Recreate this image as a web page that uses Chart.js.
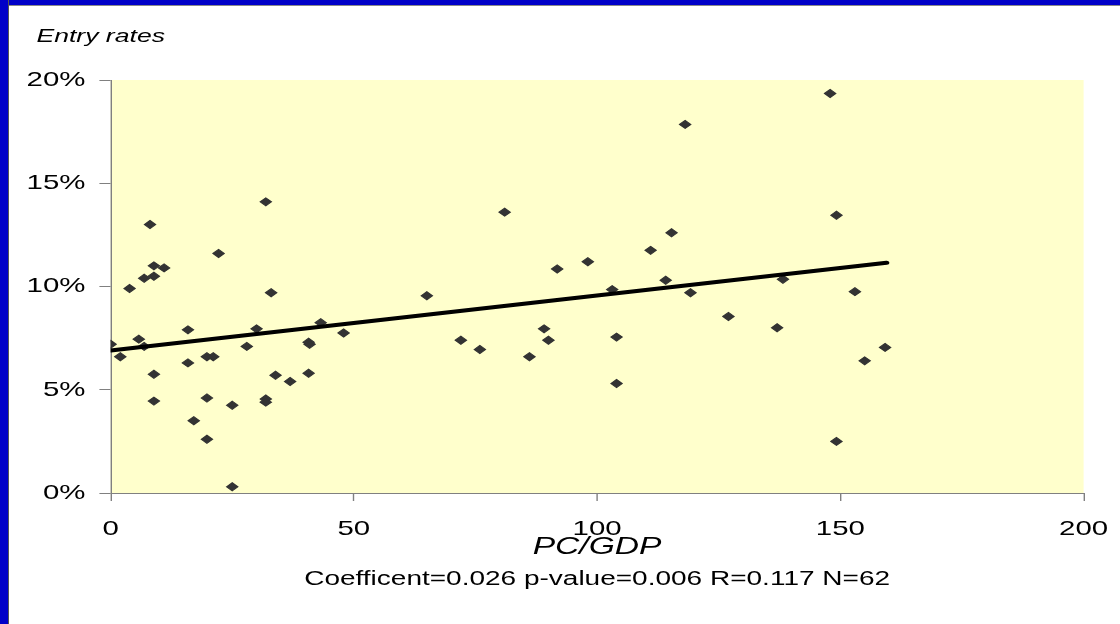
<!DOCTYPE html>
<html>
<head>
<meta charset="utf-8">
<script src="https://cdn.jsdelivr.net/npm/chart.js@4.4.1/dist/chart.umd.min.js"></script>
<style>
  html, body { margin: 0; padding: 0; background: #ffffff; overflow: hidden; }
  #wrap { position: relative; width: 1120px; height: 624px; }
  #myChart { position: absolute; left: 0; top: 0; width: 1120px; height: 624px; }
  #frameTop { position: absolute; left: 0; top: 0; width: 1120px; height: 5px; background: #0000c8; border-bottom: 1px solid #8a8a8a; }
  #frameLeft { position: absolute; left: 0; top: 0; width: 8px; height: 624px; background: #0000c8; border-right: 1px solid #555; }
</style>
</head>
<body>
<div id="wrap">
  <canvas id="myChart" width="800" height="624" style="width:1120px;height:624px"></canvas>
  <div id="frameTop"></div>
  <div id="frameLeft"></div>
</div>
<script>
// PC/GDP (x) against entry rate in % (y)
const pcGdp = [0, 2.0, 3.9, 8.1, 8.9, 11.0, 6.9, 8.9, 5.8, 6.9,
  8.9, 8.9, 15.9, 15.9, 17.1, 19.8, 21.1, 19.8, 19.8, 22.2,
  25.0, 25.0, 28.0, 30.0, 31.9, 31.9, 31.9, 33.0, 33.9, 36.9,
  40.7, 40.7, 40.9, 43.2, 47.9, 65.0, 72.0, 75.9, 81.0, 86.1,
  89.1, 90.0, 91.8, 98.1, 103.1, 104.0, 104.0, 111.0, 115.3, 114.1,
  119.2, 127.0, 147.9, 149.2, 138.2, 137.0, 153.0, 159.2, 155.0, 149.2,
  118.1];
const entryRates = [7.2, 6.6, 9.9, 13.0, 11.0, 10.9, 10.4, 10.5, 7.45, 7.1,
  5.75, 4.45, 7.9, 6.3, 3.5, 6.6, 6.6, 4.6, 2.6, 11.6,
  4.25, 0.3, 7.1, 7.95, 14.1, 4.55, 4.4, 9.7, 5.7, 5.4,
  7.3, 5.8, 7.2, 8.25, 7.75, 9.55, 7.4, 6.95, 13.6, 6.6,
  7.95, 7.4, 10.85, 11.2, 9.85, 7.55, 5.3, 11.75, 12.6, 10.3,
  9.7, 8.55, 19.35, 13.45, 10.35, 8.0, 9.75, 7.05, 6.4, 2.5,
  17.85];

// fitted line ends
const trendX = [0, 159.5];
const trendY = [6.9, 11.15];

const xTicks = [0, 50, 100, 150, 200];
const yTicks = [0, 5, 10, 15, 20];

const titleText = 'Entry rates';
const xTitle = 'PC/GDP';
const statsText = 'Coefficent=0.026 p-value=0.006 R=0.117 N=62';

// the picture is stretched sideways, so the chart is drawn at 800px and widened
const STRETCH = 1.4;

const stretchPlugin = {
  id: 'stretch',
  beforeDraw(chart) {
    const c = chart.canvas;
    if (c.width !== 1120) {
      c.width = 1120;
      c.height = 624;
    }
    const ctx = chart.ctx;
    ctx.save();
    ctx.setTransform(STRETCH, 0, 0, 1, 0, 0);
    // plot background
    const a = chart.chartArea;
    ctx.fillStyle = '#ffffcc';
    ctx.fillRect(a.left, a.top, a.right - a.left, a.bottom - a.top);
  },
  afterDraw(chart) {
    const ctx = chart.ctx;
    const a = chart.chartArea;
    const mid = (a.left + a.right) / 2;
    ctx.fillStyle = '#000';
    ctx.textBaseline = 'alphabetic';
    ctx.textAlign = 'left';
    ctx.font = 'italic 19px "Liberation Sans", Arial, sans-serif';
    ctx.fillText(titleText, 26, 42);
    ctx.textAlign = 'center';
    ctx.font = 'italic 24px "Liberation Sans", Arial, sans-serif';
    ctx.fillText(xTitle, mid, 554);
    ctx.font = '20px "Liberation Sans", Arial, sans-serif';
    ctx.fillText(statsText, mid, 585);
    ctx.restore();
  }
};

const points = pcGdp.map((x, i) => ({ x: x, y: entryRates[i] }));
const trend = trendX.map((x, i) => ({ x: x, y: trendY[i] }));

const ctx = document.getElementById('myChart').getContext('2d');
const myChart = new Chart(ctx, {
  type: 'scatter',
  data: {
    datasets: [{
      data: points,
      pointStyle: 'rectRot',
      pointRadius: 4,
      pointBorderWidth: 1,
      backgroundColor: '#333333',
      borderColor: '#333333',
      order: 2
    }, {
      type: 'line',
      data: trend,
      borderColor: '#000000',
      borderWidth: 4,
      borderCapStyle: 'round',
      pointRadius: 0,
      fill: false,
      order: 1
    }]
  },
  plugins: [stretchPlugin],
  options: {
    responsive: false,
    animation: false,
    devicePixelRatio: 1,
    layout: { padding: { top: 80, right: 26, bottom: 0, left: 0 } },
    plugins: {
      legend: { display: false },
      tooltip: { enabled: false }
    },
    scales: {
      x: {
        type: 'linear',
        min: 0,
        max: 200,
        afterBuildTicks: scale => { scale.ticks = xTicks.map(v => ({ value: v })); },
        afterFit: scale => {
          scale.height = 131;
          scale.paddingLeft = 0;
          scale.paddingRight = 0;
        },
        border: { color: '#808080', width: 1 },
        grid: { drawOnChartArea: false, drawTicks: true, tickLength: 8, color: '#808080' },
        ticks: {
          color: '#000',
          padding: 16,
          maxRotation: 0,
          font: { family: '"Liberation Sans", Arial, sans-serif', size: 21 }
        }
      },
      y: {
        min: 0,
        max: 20,
        afterBuildTicks: scale => { scale.ticks = yTicks.map(v => ({ value: v })); },
        afterFit: scale => {
          scale.width = 79;
          scale.paddingTop = 0;
          scale.paddingBottom = 0;
        },
        border: { color: '#808080', width: 1 },
        grid: { drawOnChartArea: false, drawTicks: true, tickLength: 8, color: '#808080' },
        ticks: {
          color: '#000',
          padding: 10,
          callback: v => v + '%',
          font: { family: '"Liberation Sans", Arial, sans-serif', size: 21 }
        }
      }
    }
  }
});
</script>
</body>
</html>
